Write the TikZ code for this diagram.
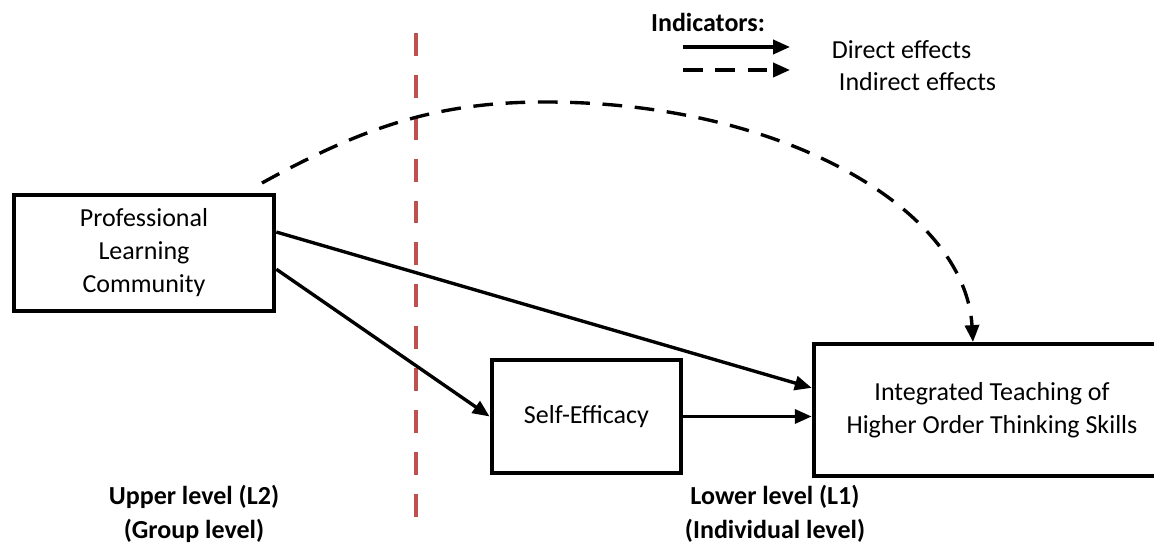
\documentclass[tikz,border=0pt]{standalone}
\usepackage{fontspec}
\setmainfont{Carlito}
\usetikzlibrary{arrows.meta}

\definecolor{divred}{RGB}{192,80,77}

\tikzset{
  box/.style={draw, line width=3.3pt, align=center, inner sep=0pt},
  arr/.style={line width=2.4pt, -{Triangle[length=12pt,width=10pt]}},
  dasharr/.style={arr, dash pattern=on 14pt off 9pt},
  divider/.style={divred, line width=3.5pt, dash pattern=on 16.3pt off 13.5pt},
  lbl/.style={font=\fontsize{18.5}{24.5}\selectfont\bfseries, align=center}
}

\begin{document}
\begin{tikzpicture}[font=\fontsize{18.5}{23.5}\selectfont]
\useasboundingbox (0,0) rectangle (28.85,13.75);

% level divider
\draw[divider] (10.4,12.925) -- (10.4,0.8);

\node[box, minimum width=6.5cm, minimum height=2.9cm] (plc) at (3.6,7.425) {Professional\\Learning\\Community};
\node[box, minimum width=4.725cm, minimum height=2.825cm] (se) at (14.66,3.3375) {Self-Efficacy};
\node[box, minimum width=8.9cm, minimum height=3.3cm] (hots) at (24.8,3.5) {Integrated Teaching of\\Higher Order Thinking Skills};

\draw[arr] (plc.9) -- (hots.173);
\draw[arr] (plc.-7) -- (se.west);
\draw[arr] (se.east) -- (hots.west |- se.east);

% indirect effect
\coordinate (arcstart) at (6.55,9.175);
\coordinate (arctop) at (13.625,11.2);
\coordinate (arcend) at (24.325,5.2);
\draw[dasharr] (arcstart) .. controls (9.05,10.55) and (10.875,11.2) .. (arctop)
  .. controls (19.525,11.2) and (24.125,8.55) .. (arcend);

% legend
\node[lbl] (ind) at (17.7,13.2) {Indicators:};
\coordinate (d1) at (17.075,12.575);
\coordinate (d2) at (19.75,12.575);
\coordinate (i1) at (17.075,12.0);
\coordinate (i2) at (19.75,12.0);
\draw[arr] (d1) -- (d2);
\draw[dasharr] (i1) -- (i2);
\node[anchor=west] (direct) at (20.675,12.5) {Direct effects};
\node[anchor=west] (indirect) at (20.85,11.7) {Indirect effects};

\node[lbl] (upper) at (4.85,0.9) {Upper level (L2)\\(Group level)};
\node[lbl] (lower) at (19.375,0.9) {Lower level (L1)\\(Individual level)};
\end{tikzpicture}
\end{document}
